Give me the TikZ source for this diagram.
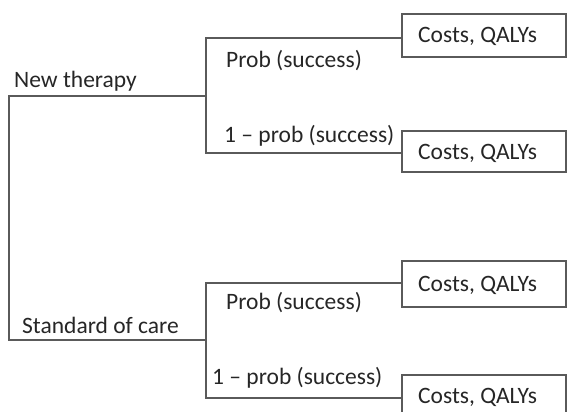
\documentclass[tikz,border=0pt]{standalone}
\usepackage{fontspec}
\setmainfont{Carlito}
\definecolor{linec}{HTML}{5A5A5A}
\tikzset{
  treeline/.style={draw=linec, line width=1.8pt},
  outbox/.style={draw=linec, line width=1.8pt, rectangle, anchor=north west, inner sep=0pt},
  lbl/.style={anchor=base west, inner sep=0pt, font=\fontsize{23.5}{28}\selectfont, text=black!85}
}
\begin{document}
\begin{tikzpicture}[x=1pt, y=-1pt]
\useasboundingbox (0,0) rectangle (568,412);
% outcome boxes
\node[outbox, minimum width=164pt, minimum height=43pt] (b1) at (401,13) {};
\node[outbox, minimum width=164pt, minimum height=41pt] (b2) at (401,130) {};
\node[outbox, minimum width=164pt, minimum height=46pt] (b3) at (401,260) {};
\node[outbox, minimum width=164pt, minimum height=46pt] (b4) at (401,374) {};
% branch points
\coordinate (root) at (9,96);
\coordinate (rootb) at (9,340);
\coordinate (c1) at (206,96);
\coordinate (c1t) at (206,38);
\coordinate (c1b) at (206,153);
\coordinate (c2) at (206,340);
\coordinate (c2t) at (206,283);
\coordinate (c2b) at (206,398);
% tree lines
\draw[treeline] (c1) -- (root) -- (rootb) -- (c2);
\draw[treeline] (b1.west |- c1t) -- (c1t) -- (c1b) -- (b2.west |- c1b);
\draw[treeline] (b3.west |- c2t) -- (c2t) -- (c2b) -- (b4.west |- c2b);
% labels
\node[lbl] (nt) at (14,88) {New therapy};
\node[lbl] (soc) at (22,333) {Standard of care};
\node[lbl] (p1) at (226,68) {Prob (success)};
\node[lbl] (q1) at (224,142) {1 – prob (success)};
\node[lbl] (p2) at (226,309) {Prob (success)};
\node[lbl] (q2) at (212,384) {1 – prob (success)};
\node[lbl] (t1) at (418,43) {Costs, QALYs};
\node[lbl] (t2) at (418,159) {Costs, QALYs};
\node[lbl] (t3) at (418,291) {Costs, QALYs};
\node[lbl] (t4) at (418,403) {Costs, QALYs};
\end{tikzpicture}
\end{document}
